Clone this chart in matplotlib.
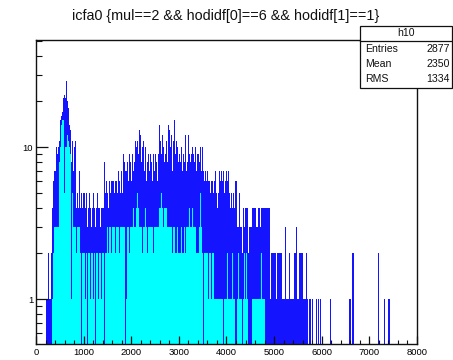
import numpy as np
import matplotlib
matplotlib.use("Agg")
import matplotlib.pyplot as plt
from matplotlib.patches import Rectangle
from matplotlib.lines import Line2D
from matplotlib.ticker import FixedLocator, LogLocator, NullFormatter, FixedFormatter

plt.rcParams['font.family'] = ['Liberation Sans', 'DejaVu Sans']

# ---- histogram definition -------------------------------------------------
x_min, x_max, n_bins = 0, 8000, 400
title = "icfa0 {mul==2 && hodidf[0]==6 && hodidf[1]==1}"
hist_name = "h10"
stat_labels = ["Entries", "Mean", "RMS"]
stat_values = ["2877", "2350", "1334"]
x_ticks = [0, 1000, 2000, 3000, 4000, 5000, 6000, 7000, 8000]
x_tick_labels = ["0", "1000", "2000", "3000", "4000", "5000", "6000", "7000", "8000"]
y_ticks = [1, 10]
y_tick_labels = ["1", "10"]

# counts per 20-unit bin, all events (blue)
counts_0_1000 = [0, 0, 0, 0, 0, 0, 0, 0, 0, 0,
                 1, 1, 1, 2, 1, 1, 2, 4, 6, 7,
                 7, 10, 9, 10, 11, 15, 16, 17, 21, 22,
                 21, 18, 27, 20, 18, 14, 13, 8, 11, 7,
                 10, 11, 4, 5, 4, 7, 4, 5, 4, 5]
counts_1000_2000 = [5, 4, 4, 5, 3, 4, 5, 4, 3, 4,
                    5, 4, 3, 4, 5, 4, 4, 3, 4, 4,
                    4, 8, 5, 4, 6, 5, 4, 6, 5, 6,
                    6, 6, 5, 6, 6, 5, 7, 6, 5, 7,
                    5, 9, 8, 7, 6, 7, 8, 6, 9, 8]
counts_2000_3000 = [6, 9, 7, 8, 11, 10, 11, 9, 13, 12,
                    8, 10, 11, 7, 10, 9, 6, 8, 9, 7,
                    9, 8, 6, 9, 7, 9, 8, 6, 9, 14,
                    11, 9, 12, 10, 8, 9, 13, 11, 8, 14,
                    13, 10, 12, 7, 11, 15, 9, 11, 10, 8]
counts_3000_4000 = [9, 8, 10, 7, 9, 8, 12, 9, 7, 8,
                    12, 9, 8, 9, 10, 9, 8, 10, 7, 9,
                    9, 8, 10, 7, 10, 7, 6, 7, 8, 6,
                    7, 6, 6, 5, 6, 6, 5, 6, 7, 5,
                    4, 5, 7, 6, 7, 6, 7, 5, 6, 7]
counts_4000_5000 = [7, 6, 7, 5, 4, 5, 4, 5, 4, 6,
                    6, 3, 3, 5, 3, 3, 2, 4, 3, 4,
                    4, 5, 4, 2, 3, 3, 3, 4, 4, 4,
                    4, 3, 3, 4, 4, 3, 4, 4, 4, 4,
                    4, 4, 3, 4, 4, 4, 1, 2, 2, 2]
counts_5000_6000 = [2, 2, 1, 2, 2, 2, 2, 2, 1, 1,
                    1, 3, 1, 1, 1, 1, 2, 1, 1, 1,
                    1, 2, 2, 3, 1, 1, 2, 2, 2, 2,
                    1, 1, 1, 2, 1, 1, 0, 1, 1, 0,
                    1, 0, 0, 0, 1, 0, 1, 0, 1, 0]
counts_6000_7000 = [0, 0, 0, 0, 0, 0, 0, 0, 0, 1,
                    0, 0, 0, 0, 0, 0, 0, 0, 0, 0,
                    0, 0, 0, 0, 0, 0, 1, 0, 0, 1,
                    1, 0, 2, 2, 0, 0, 0, 0, 0, 0,
                    0, 0, 0, 0, 0, 0, 0, 0, 0, 0]
counts_7000_8000 = [0, 0, 0, 0, 0, 0, 0, 0, 0, 2,
                    0, 0, 0, 0, 0, 1, 0, 0, 0, 0,
                    1, 1, 0, 0, 0, 0, 0, 0, 0, 0,
                    0, 0, 0, 0, 0, 0, 0, 0, 0, 0,
                    0, 0, 0, 0, 0, 0, 0, 0, 0, 0]

# counts per 20-unit bin, selected subset (cyan), 0..5000
sub_0_1000 = [0, 0, 0, 0, 0, 0, 0, 0, 0, 0,
              0, 0, 0, 0, 0, 0, 0, 1, 2, 3,
              3, 3, 3, 3, 8, 10, 14, 15, 15, 5,
              10, 11, 10, 12, 11, 10, 9, 1, 5, 3,
              3, 3, 2, 3, 3, 3, 2, 0, 2, 2]
sub_1000_2000 = [2, 1, 2, 2, 0, 2, 2, 1, 2, 2,
                 1, 2, 0, 2, 2, 1, 2, 2, 1, 2,
                 2, 0, 2, 1, 2, 3, 2, 3, 3, 2,
                 3, 3, 3, 2, 3, 3, 3, 2, 3, 3,
                 3, 3, 3, 0, 3, 1, 3, 3, 2, 3]
sub_2000_3000 = [3, 3, 4, 3, 3, 4, 5, 4, 3, 3,
                 3, 2, 3, 3, 4, 3, 3, 2, 3, 3,
                 3, 3, 3, 2, 3, 3, 3, 3, 3, 4,
                 4, 5, 4, 3, 4, 4, 3, 4, 3, 3,
                 3, 3, 3, 2, 3, 3, 2, 2, 3, 2]
sub_3000_4000 = [2, 2, 3, 2, 2, 3, 2, 2, 3, 3,
                 3, 4, 3, 3, 4, 3, 3, 3, 2, 2,
                 2, 3, 5, 3, 2, 0, 2, 2, 2, 2,
                 2, 1, 2, 2, 1, 2, 2, 1, 1, 1,
                 1, 1, 1, 1, 1, 1, 0, 1, 1, 1]
sub_4000_5000 = [1, 2, 1, 1, 1, 1, 2, 1, 1, 0,
                 0, 1, 2, 1, 1, 1, 0, 1, 2, 1,
                 2, 1, 1, 0, 0, 0, 0, 1, 1, 1,
                 1, 1, 1, 1, 1, 1, 2, 1, 1, 1,
                 0, 0, 0, 0, 0, 0, 0, 0, 0, 0]

all_counts = np.array(counts_0_1000 + counts_1000_2000 + counts_2000_3000 +
                      counts_3000_4000 + counts_4000_5000 + counts_5000_6000 +
                      counts_6000_7000 + counts_7000_8000, dtype=float)
sub_counts = np.array(sub_0_1000 + sub_1000_2000 + sub_2000_3000 +
                      sub_3000_4000 + sub_4000_5000, dtype=float)

edges = np.linspace(x_min, x_max, n_bins + 1)
sub_edges = edges[:len(sub_counts) + 1]

# ---- canvas ----------------------------------------------------------------
W, H = 453, 360
fig = plt.figure(figsize=(W / 100, H / 100), dpi=100)
fig.patch.set_facecolor("white")
left, right, top, bottom = 36, 417, 40, 344
ax = fig.add_axes([left / W, 1 - bottom / H, (right - left) / W, (bottom - top) / H])
ax.set_yscale("log")

# empty bins sit below the visible range on the log axis
floor = 0.3
blue = "#1414ff"
cyan = "#00ffff"
ax.stairs(np.where(all_counts > 0, all_counts, floor), edges, baseline=floor,
          fill=True, color=blue, lw=0)
ax.stairs(np.where(sub_counts > 0, sub_counts, floor), sub_edges, baseline=floor,
          fill=True, color=cyan, lw=0)

ax.set_xlim(x_min, x_max)
ax.set_ylim(0.506, 50.6)

for s in ax.spines.values():
    s.set_linewidth(1.0)
    s.set_color("#111111")

ax.xaxis.set_major_locator(FixedLocator(x_ticks))
ax.xaxis.set_major_formatter(FixedFormatter(x_tick_labels))
ax.xaxis.set_minor_locator(FixedLocator(np.arange(0, 8001, 200)))
ax.yaxis.set_major_locator(FixedLocator(y_ticks))
ax.yaxis.set_major_formatter(FixedFormatter(y_tick_labels))
ax.yaxis.set_minor_locator(LogLocator(base=10, subs=np.arange(2, 10)))
ax.yaxis.set_minor_formatter(NullFormatter())

ax.tick_params(axis="x", which="major", direction="in", length=6, width=0.9,
               labelsize=6.8, pad=3, top=False, color="#111111")
ax.tick_params(axis="x", which="minor", direction="in", length=3, width=0.8,
               top=False, color="#111111")
ax.tick_params(axis="y", which="major", direction="in", length=8.5, width=0.9,
               labelsize=6.8, pad=2, right=False, color="#111111")
ax.tick_params(axis="y", which="minor", direction="in", length=4.5, width=0.8,
               right=False, color="#111111")

# ---- title -----------------------------------------------------------------
fig.text(226 / W, 1 - 16 / H, title, ha="center", va="center", fontsize=10.4,
         color="#111111")

# ---- statistics box --------------------------------------------------------
bx0, bx1, by0, by1 = 360, 452, 26, 88
fig.add_artist(Rectangle((bx0 / W, 1 - by1 / H), (bx1 - bx0) / W, (by1 - by0) / H,
                         transform=fig.transFigure, facecolor="white",
                         edgecolor="#111111", lw=0.9, zorder=5))
fig.add_artist(Line2D([bx0 / W, bx1 / W], [1 - 40.5 / H, 1 - 40.5 / H],
                      transform=fig.transFigure, color="#111111", lw=0.9, zorder=6))
fig.text(406 / W, 1 - 33.5 / H, hist_name, ha="center", va="center",
         fontsize=7.6, zorder=7, color="#111111")
for lab, val, yy in zip(stat_labels, stat_values, [49.5, 64, 78.5]):
    fig.text(365 / W, 1 - yy / H, lab, ha="left", va="center", fontsize=7.6,
             zorder=7, color="#111111")
    fig.text(450 / W, 1 - yy / H, val, ha="right", va="center", fontsize=7.6,
             zorder=7, color="#111111")

fig.savefig("out.png", dpi=100, facecolor="white")
